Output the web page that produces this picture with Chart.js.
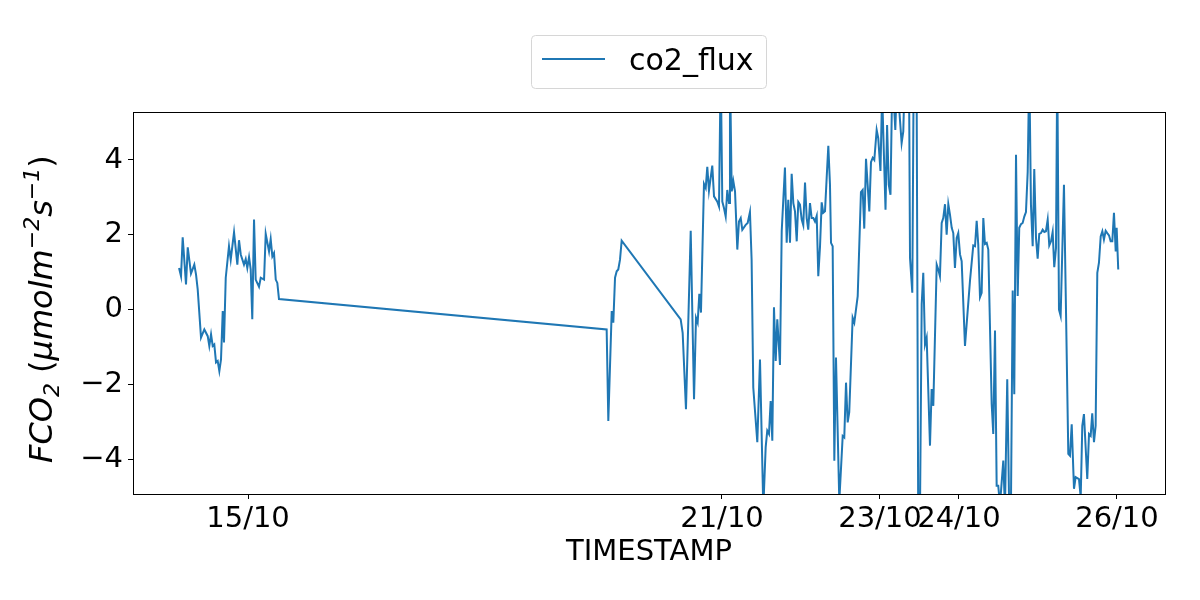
<!DOCTYPE html>
<html>
<head>
<meta charset="utf-8">
<script src="https://cdn.jsdelivr.net/npm/chart.js@4.4.0/dist/chart.umd.min.js"></script>
<style>
  html, body { margin: 0; padding: 0; background: #fff; }
  #wrap { width: 1200px; height: 600px; }
</style>
</head>
<body>
<div id="wrap"><canvas id="chart" width="1200" height="600"></canvas></div>
<script>
// ==================== DATA ====================
// time in days since 14/10 00:00
const dayOffsets = [
  0.127, 0.152, 0.173, 0.215, 0.237, 0.278, 0.320, 0.342, 0.363, 0.405,
  0.447, 0.490, 0.510, 0.532, 0.553, 0.573, 0.595, 0.616, 0.637, 0.658,
  0.680, 0.696, 0.718, 0.759, 0.781, 0.823, 0.865, 0.886, 0.908, 0.949,
  0.971, 0.991, 1.013, 1.034, 1.054, 1.076, 1.097, 1.139, 1.161, 1.203,
  1.224, 1.266, 1.287, 1.308, 1.329, 1.351, 1.371, 1.392,
  5.540, 5.561, 5.604, 5.624, 5.646, 5.667, 5.687, 5.709, 5.730,
  6.477, 6.502, 6.544, 6.604, 6.646, 6.671, 6.692, 6.713, 6.734, 6.772,
  6.794, 6.814, 6.835, 6.877, 6.899, 6.941, 6.962, 6.984, 7.004, 7.025,
  7.047, 7.067, 7.089, 7.101, 7.123, 7.143, 7.165, 7.194, 7.215, 7.237,
  7.257, 7.300, 7.325, 7.354, 7.375, 7.396, 7.447, 7.481, 7.523, 7.553,
  7.573, 7.595, 7.616, 7.637, 7.658, 7.680, 7.700, 7.734, 7.756, 7.797,
  7.819, 7.839, 7.861, 7.882, 7.903, 7.924, 7.946, 7.966, 7.987, 8.009,
  8.029, 8.051, 8.072, 8.092, 8.114, 8.135, 8.156, 8.177, 8.199, 8.219,
  8.241, 8.262, 8.282, 8.304, 8.325, 8.346, 8.367, 8.380, 8.401, 8.422,
  8.443, 8.485, 8.528, 8.548, 8.570, 8.591, 8.611, 8.654, 8.675, 8.718,
  8.759, 8.781, 8.801, 8.823, 8.865, 8.886, 8.908, 8.928, 8.958, 8.978,
  9.006, 9.027, 9.070, 9.090, 9.111, 9.133, 9.153, 9.177, 9.194, 9.215,
  9.274, 9.295, 9.316, 9.367, 9.380, 9.409, 9.430, 9.462, 9.486, 9.506,
  9.528, 9.548, 9.570, 9.591, 9.633, 9.654, 9.675, 9.718, 9.738, 9.759,
  9.781, 9.801, 9.823, 9.844, 9.865, 9.886, 9.908, 9.928, 9.949, 9.971,
  9.991, 10.013, 10.034, 10.076, 10.139, 10.181, 10.203, 10.224, 10.244, 10.266,
  10.287, 10.308, 10.329, 10.351, 10.371, 10.414, 10.434, 10.456, 10.477, 10.497,
  10.519, 10.561, 10.582, 10.611, 10.637, 10.658, 10.680, 10.700, 10.722, 10.743,
  10.763, 10.785, 10.806, 10.827, 10.848, 10.870, 10.890, 10.911, 10.933, 10.953,
  10.975, 10.996, 11.016, 11.038, 11.059, 11.080, 11.101, 11.123, 11.143, 11.165,
  11.186, 11.206, 11.228, 11.244, 11.266, 11.287, 11.329, 11.384, 11.405, 11.427,
  11.456, 11.477, 11.519, 11.541, 11.561, 11.582, 11.624, 11.646, 11.667, 11.687,
  11.709, 11.730, 11.751, 11.772, 11.794, 11.815, 11.835, 11.857, 11.877, 11.899,
  11.920, 11.941, 11.962, 11.984, 11.996, 12.016
];

const co2Flux = [
  1.12, 0.90, 1.94, 0.68, 1.67, 0.97, 1.21, 0.94, 0.55, -0.74,
  -0.52, -0.70, -0.96, -0.65, -0.96, -0.92, -1.40, -1.36, -1.63, -1.32,
  -0.03, -0.87, 0.86, 1.70, 1.34, 2.07, 1.21, 1.86, 1.48, 1.21,
  1.36, 1.12, 1.41, 1.08, -0.25, 2.41, 0.81, 0.62, 0.86, 0.81,
  2.03, 1.56, 1.89, 1.43, 1.52, 0.81, 0.72, 0.29,
  -0.52, -2.96, -0.03, -0.34, 0.86, 1.03, 1.08, 1.34, 1.85,
  -0.25, -0.61, -2.65, 2.11, -2.38, -0.21, -0.34, 0.43, -0.07, 3.36,
  3.25, 3.82, 3.18, 3.85, 3.03, 2.89, 2.76, 6.5, 2.89, 2.72,
  2.49, 3.20, 2.85, 6.5, 3.16, 3.44, 3.16, 1.61, 2.36, 2.45,
  2.14, 2.27, 2.32, 2.61, 1.34, -2.07, -3.53, -1.32, -5.3, -3.66,
  -3.22, -3.31, -2.43, -3.49, 0.07, -1.36, -0.25, -1.47, 2.10, 3.80,
  1.79, 2.94, 1.79, 3.63, 2.85, 2.63, 1.83, 2.88, 2.81, 2.41,
  2.26, 3.40, 2.45, 2.14, 2.85, 2.45, 2.45, 2.36, 2.51, 0.90,
  1.70, 2.87, 2.59, 2.63, 3.52, 4.38, 3.34, 1.79, 1.70, -4.02,
  -1.27, -5.1, -3.36, -3.40, -1.94, -3.00, -2.73, -0.21, -0.34, 0.37,
  3.14, 3.20, 2.17, 4.03, 2.63, 3.94, 4.06, 4.00, 4.80, 4.58,
  3.71, 5.8, 2.67, 4.93, 3.34, 3.07, 5.8, 5.5, 4.80, 6.2,
  4.45, 4.76, 6.5, 6.5, 1.39, 0.46, 7.5, 7.0, -6.5, -5.5,
  0.15, 0.99, -0.92, -0.74, -3.62, -2.11, -2.56, 1.21, 1.08, 0.90,
  2.32, 2.45, 2.82, 2.01, 2.82, 2.54, 2.19, 2.05, 1.12, 1.92,
  2.05, 1.48, 1.30, -0.96, 0.77, 1.72, 1.70, 2.38, 1.74, 0.34,
  0.46, 2.45, 1.76, 1.79, 1.61, -2.51, -3.31, -0.55, -4.69, -4.69,
  -5.2, -4.02, -5.3, -1.85, -5.5, -5.2, 0.52, -2.25, 4.14, 0.37,
  2.19, 2.29, 2.32, 2.49, 2.61, 3.69, 6.5, 2.81, 1.70, 3.76,
  1.92, 1.37, 2.03, 2.05, 2.14, 2.08, 2.10, 2.41, 1.72, 1.83,
  2.08, 1.14, 1.65, 6.5, 0.01, -0.16, 3.34, -3.84, -3.89, -3.05,
  -4.77, -4.46, -4.51, -5.0, -3.09, -2.78, -4.51, -3.31, -3.36, -2.76,
  -3.53, -3.09, 0.99, 1.26, 1.96, 2.10, 1.88, 2.11, 2.05, 1.99,
  1.83, 1.83, 2.59, 1.56, 2.19, 1.08
];

const tickDays = [1, 7, 9, 10, 12];
const tickLabels = ["15/10", "21/10", "23/10", "24/10", "26/10"];
const yTicks = [-4, -2, 0, 2, 4];

// ==================== STYLE ====================
const FONT = "DejaVu Sans";
const BLUE = "#1f77b4";

// y label pieces, mathtext-like: [text, italic, small, shift]
const yLabelParts = [
  ["FCO", true, false, 0],
  ["2", true, true, 7],
  [" (", false, false, 0],
  ["\u03bcmolm", true, false, 0],
  ["\u22122", true, true, -13],
  ["s", true, false, 0],
  ["\u22121", true, true, -13],
  [")", false, false, 0]
];

// box round the plot, y label and matplotlib-like legend
const framePlugin = {
  id: "frame",
  afterDraw(chart) {
    const { ctx, chartArea: a } = chart;
    ctx.save();
    ctx.strokeStyle = "#000";
    ctx.lineWidth = 1;
    ctx.strokeRect(a.left + 0.5, a.top + 0.5, a.right - a.left, a.bottom - a.top);

    // y axis label
    ctx.save();
    ctx.translate(52, 463);
    ctx.rotate(-Math.PI / 2);
    ctx.fillStyle = "#000";
    ctx.textBaseline = "alphabetic";
    let x = 0;
    yLabelParts.forEach(([t, it, small, dy]) => {
      ctx.font = `${it ? "italic " : ""}${small ? 22 : 32}px "${FONT}"`;
      ctx.fillText(t, x, dy);
      x += ctx.measureText(t).width;
    });
    ctx.restore();

    // legend
    const x0 = 531.5, y0 = 35.5, w = 235, h = 53, r = 4;
    ctx.strokeStyle = "#d6d6d6";
    ctx.beginPath();
    ctx.moveTo(x0 + r, y0);
    ctx.arcTo(x0 + w, y0, x0 + w, y0 + h, r);
    ctx.arcTo(x0 + w, y0 + h, x0, y0 + h, r);
    ctx.arcTo(x0, y0 + h, x0, y0, r);
    ctx.arcTo(x0, y0, x0 + w, y0, r);
    ctx.closePath();
    ctx.stroke();

    ctx.strokeStyle = BLUE;
    ctx.lineWidth = 2;
    ctx.beginPath();
    ctx.moveTo(542, 59);
    ctx.lineTo(605, 59);
    ctx.stroke();

    ctx.fillStyle = "#000";
    ctx.font = `30px "${FONT}"`;
    ctx.fillText(chart.data.datasets[0].label, 629, 70);
    ctx.restore();
  }
};

// ==================== CHART ====================
const points = dayOffsets.map((d, i) => ({ x: d, y: co2Flux[i] }));

new Chart(document.getElementById("chart"), {
  type: "line",
  data: {
    datasets: [{
      label: "co2_flux",
      data: points,
      borderColor: BLUE,
      borderWidth: 2,
      pointRadius: 0,
      tension: 0,
      fill: false
    }]
  },
  options: {
    responsive: false,
    animation: false,
    devicePixelRatio: 1,
    layout: { padding: { top: 112, right: 35, bottom: 0, left: 0 } },
    plugins: { legend: { display: false }, tooltip: { enabled: false } },
    scales: {
      x: {
        type: "linear",
        min: -0.456,
        max: 12.608,
        afterFit: s => { s.height = 106; },
        afterBuildTicks: s => { s.ticks = tickDays.map(v => ({ value: v })); },
        grid: { drawOnChartArea: false, color: "#000", tickLength: 5 },
        border: { color: "#000", width: 1 },
        ticks: {
          autoSkip: false,
          maxRotation: 0,
          padding: 3,
          color: "#000",
          font: { family: FONT, size: 29 },
          callback: v => tickLabels[tickDays.indexOf(v)]
        },
        title: {
          display: true,
          text: "TIMESTAMP",
          color: "#000",
          font: { family: FONT, size: 29 },
          padding: { top: 0, bottom: 30 }
        }
      },
      y: {
        min: -4.91,
        max: 5.28,
        afterFit: s => { s.width = 133; },
        afterBuildTicks: s => { s.ticks = yTicks.map(v => ({ value: v })); },
        grid: { drawOnChartArea: false, color: "#000", tickLength: 5 },
        border: { color: "#000", width: 1 },
        ticks: {
          padding: 5,
          color: "#000",
          font: { family: FONT, size: 29 },
          callback: v => (v < 0 ? "\u2212" + Math.abs(v) : String(v))
        }
      }
    }
  },
  plugins: [framePlugin]
});
</script>
</body>
</html>
